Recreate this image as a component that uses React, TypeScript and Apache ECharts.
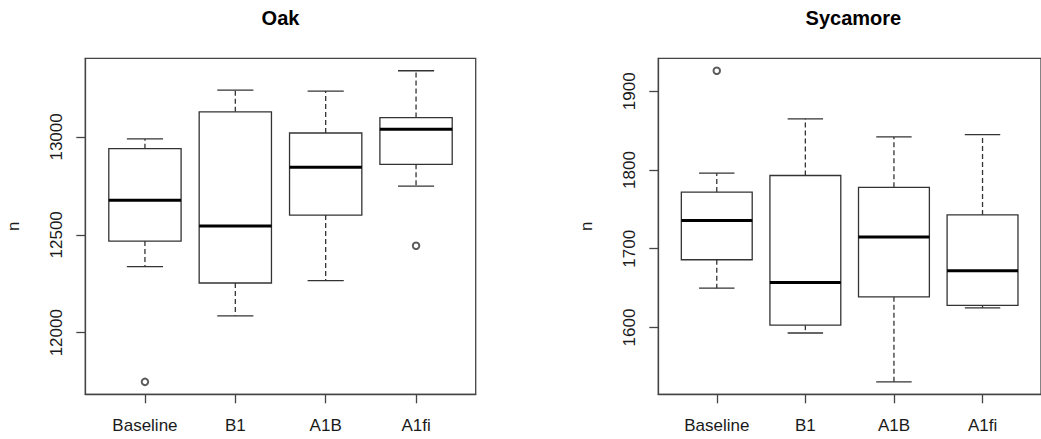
import React, { useEffect, useRef } from "react";
import * as echarts from "echarts";

const categories = ["Baseline", "B1", "A1B", "A1fi"];
// [lower whisker, Q1, median, Q3, upper whisker]
const oakStats = [
  [12338, 12468, 12677, 12940, 12990],
  [12086, 12254, 12545, 13128, 13239],
  [12266, 12601, 12845, 13020, 13234],
  [12749, 12860, 13039, 13099, 13338],
];
const oakOutliers = [
  [1, 11749],
  [4, 12444],
];
const sycStats = [
  [1650, 1686, 1736, 1772, 1796],
  [1593, 1603, 1657, 1793, 1865],
  [1531, 1639, 1715, 1778, 1842],
  [1625, 1628, 1672, 1743, 1845],
];
const sycOutliers = [[1, 1926]];
const oakTicks = [12000, 12500, 13000];
const sycTicks = [1600, 1700, 1800, 1900];
const titles = ["Oak", "Sycamore"];

const FONT = "Liberation Sans, Arial, sans-serif";
const LINE = "#333";
const FRAME = "#444";
const TEXT = "#1a1a1a";

function range(stats: number[][], outliers: number[][]) {
  const vals = stats.flat().concat(outliers.map((o) => o[1]));
  const lo = Math.min(...vals);
  const hi = Math.max(...vals);
  const ext = (hi - lo) * 0.04;
  return [lo - ext, hi + ext];
}

function renderBox(params: any, api: any) {
  const x = api.value(0);
  const lo = api.value(1);
  const q1 = api.value(2);
  const med = api.value(3);
  const q3 = api.value(4);
  const hi = api.value(5);
  const half = api.size([0.8, 0])[0] / 2;
  const cap = half / 2;
  const [cx, yLo] = api.coord([x, lo]);
  const yQ1 = api.coord([x, q1])[1];
  const yMed = api.coord([x, med])[1];
  const yQ3 = api.coord([x, q3])[1];
  const yHi = api.coord([x, hi])[1];
  const lw = 1.3;
  return {
    type: "group",
    children: [
      {
        type: "line",
        shape: { x1: cx, y1: yQ3, x2: cx, y2: yHi },
        style: { stroke: LINE, lineWidth: lw, lineDash: [5, 3] },
      },
      {
        type: "line",
        shape: { x1: cx, y1: yQ1, x2: cx, y2: yLo },
        style: { stroke: LINE, lineWidth: lw, lineDash: [5, 3] },
      },
      {
        type: "line",
        shape: { x1: cx - cap, y1: yHi, x2: cx + cap, y2: yHi },
        style: { stroke: LINE, lineWidth: lw },
      },
      {
        type: "line",
        shape: { x1: cx - cap, y1: yLo, x2: cx + cap, y2: yLo },
        style: { stroke: LINE, lineWidth: lw },
      },
      {
        type: "rect",
        shape: { x: cx - half, y: yQ3, width: 2 * half, height: yQ1 - yQ3 },
        style: { fill: "#fff", stroke: LINE, lineWidth: lw },
      },
      {
        type: "line",
        shape: { x1: cx - half, y1: yMed, x2: cx + half, y2: yMed },
        style: { stroke: "#000", lineWidth: 3 },
      },
    ],
  };
}

export default function App() {
  const ref = useRef<HTMLDivElement>(null);
  useEffect(() => {
    if (!ref.current) return;
    const chart = echarts.init(ref.current, null, { renderer: "svg" });
    const oakRange = range(oakStats, oakOutliers);
    const sycRange = range(sycStats, sycOutliers);
    const panels = [
      { stats: oakStats, outliers: oakOutliers, ticks: oakTicks, r: oakRange },
      { stats: sycStats, outliers: sycOutliers, ticks: sycTicks, r: sycRange },
    ];
    const grids = [
      { left: 85.3, right: 1041 - 475.7, top: 58.3, bottom: 439 - 394.3 },
      { left: 658.3, right: 1041 - 1048.5, top: 58.3, bottom: 439 - 394.3 },
    ];
    const xAxes = panels.map((_, i) => ({
      type: "value",
      gridIndex: i,
      min: 0.34,
      max: 4.66,
      splitLine: { show: false },
      axisLine: { show: true, lineStyle: { color: FRAME, width: 1.3 } },
      axisTick: {
        show: true,
        customValues: [1, 2, 3, 4],
        length: 9,
        lineStyle: { color: FRAME, width: 1.3 },
      },
      axisLabel: {
        customValues: [1, 2, 3, 4],
        formatter: (v: number) => categories[Math.round(v) - 1] ?? "",
        margin: 23,
        fontSize: 17,
        fontFamily: FONT,
        color: TEXT,
      },
    }));
    const yAxes = panels.map((p, i) => ({
      type: "value",
      gridIndex: i,
      min: p.r[0],
      max: p.r[1],
      name: "n",
      nameLocation: "middle",
      nameRotate: 90,
      nameGap: 63,
      nameTextStyle: { fontSize: 17, fontFamily: FONT, color: TEXT },
      splitLine: { show: false },
      axisLine: { show: true, lineStyle: { color: FRAME, width: 1.3 } },
      axisTick: {
        show: true,
        customValues: p.ticks,
        length: 9,
        lineStyle: { color: FRAME, width: 1.3 },
      },
      axisLabel: {
        customValues: p.ticks,
        rotate: 90,
        margin: 20,
        fontSize: 17,
        fontFamily: FONT,
        color: TEXT,
        formatter: (v: number) => String(Math.round(v)),
      },
    }));
    const series: any[] = [];
    panels.forEach((p, i) => {
      series.push({
        type: "custom",
        xAxisIndex: i,
        yAxisIndex: i,
        renderItem: renderBox,
        encode: { x: 0, y: [1, 2, 3, 4, 5] },
        data: p.stats.map((s, k) => [k + 1, ...s]),
        silent: true,
      });
      series.push({
        type: "scatter",
        xAxisIndex: i,
        yAxisIndex: i,
        symbol: "emptyCircle",
        symbolSize: 6.5,
        itemStyle: { color: LINE, borderColor: LINE, borderWidth: 1 },
        data: p.outliers,
        silent: true,
      });
    });
    chart.setOption({
      animation: false,
      backgroundColor: "#fff",
      grid: grids.map((g) => ({
        ...g,
        show: true,
        borderColor: FRAME,
        borderWidth: 1.3,
        backgroundColor: "transparent",
      })),
      xAxis: xAxes,
      yAxis: yAxes,
      graphic: [
        {
          type: "text",
          x: (85.3 + 475.7) / 2,
          y: 17.5,
          style: {
            text: titles[0],
            align: "center",
            verticalAlign: "middle",
            fontSize: 20,
            fontWeight: "bold",
            fontFamily: FONT,
            fill: "#000",
          },
        },
        {
          type: "text",
          x: (658.3 + 1048.5) / 2,
          y: 17.5,
          style: {
            text: titles[1],
            align: "center",
            verticalAlign: "middle",
            fontSize: 20,
            fontWeight: "bold",
            fontFamily: FONT,
            fill: "#000",
          },
        },
      ],
      series,
    });
    return () => chart.dispose();
  }, []);
  return (
    <div
      ref={ref}
      style={{ position: "fixed", left: 0, top: 0, width: 1041, height: 439 }}
    />
  );
}
